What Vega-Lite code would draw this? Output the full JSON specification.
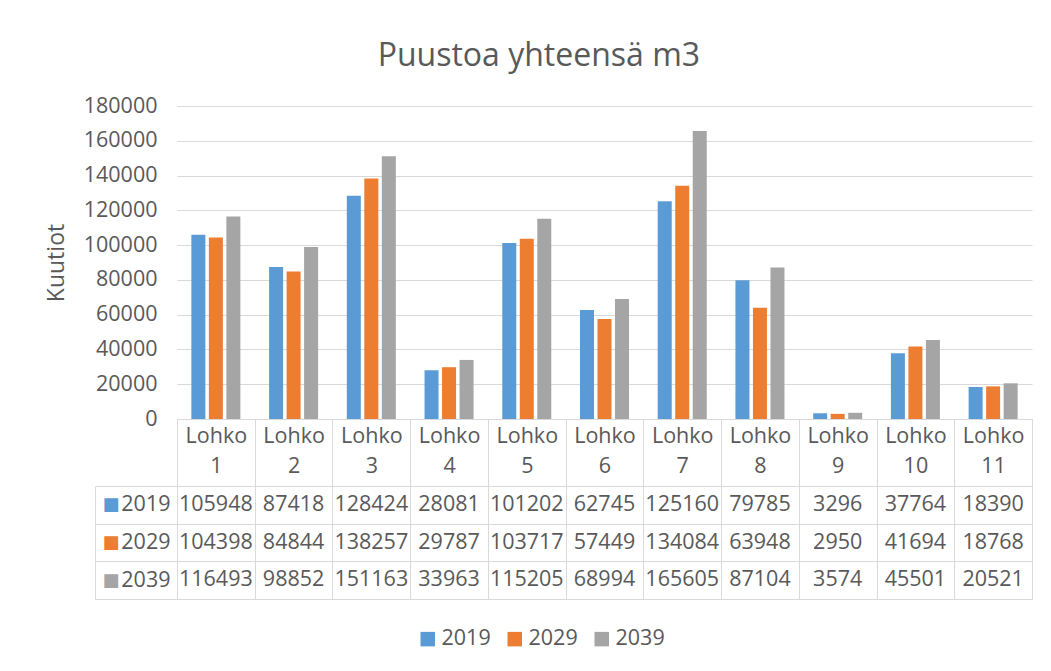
{
  "$schema": "https://vega.github.io/schema/vega-lite/v6.json",
  "background": "white",
  "padding": {"left": 45, "top": 40, "right": 20, "bottom": 10},
  "title": {"text": "Puustoa yhteensä m3", "font": "Open Sans", "fontSize": 32, "fontWeight": "normal", "color": "#595959", "anchor": "middle", "offset": 22},
  "data": {"values": [
    {"cat": "Lohko 1", "year": "2019", "value": 105948},
    {"cat": "Lohko 1", "year": "2029", "value": 104398},
    {"cat": "Lohko 1", "year": "2039", "value": 116493},
    {"cat": "Lohko 2", "year": "2019", "value": 87418},
    {"cat": "Lohko 2", "year": "2029", "value": 84844},
    {"cat": "Lohko 2", "year": "2039", "value": 98852},
    {"cat": "Lohko 3", "year": "2019", "value": 128424},
    {"cat": "Lohko 3", "year": "2029", "value": 138257},
    {"cat": "Lohko 3", "year": "2039", "value": 151163},
    {"cat": "Lohko 4", "year": "2019", "value": 28081},
    {"cat": "Lohko 4", "year": "2029", "value": 29787},
    {"cat": "Lohko 4", "year": "2039", "value": 33963},
    {"cat": "Lohko 5", "year": "2019", "value": 101202},
    {"cat": "Lohko 5", "year": "2029", "value": 103717},
    {"cat": "Lohko 5", "year": "2039", "value": 115205},
    {"cat": "Lohko 6", "year": "2019", "value": 62745},
    {"cat": "Lohko 6", "year": "2029", "value": 57449},
    {"cat": "Lohko 6", "year": "2039", "value": 68994},
    {"cat": "Lohko 7", "year": "2019", "value": 125160},
    {"cat": "Lohko 7", "year": "2029", "value": 134084},
    {"cat": "Lohko 7", "year": "2039", "value": 165605},
    {"cat": "Lohko 8", "year": "2019", "value": 79785},
    {"cat": "Lohko 8", "year": "2029", "value": 63948},
    {"cat": "Lohko 8", "year": "2039", "value": 87104},
    {"cat": "Lohko 9", "year": "2019", "value": 3296},
    {"cat": "Lohko 9", "year": "2029", "value": 2950},
    {"cat": "Lohko 9", "year": "2039", "value": 3574},
    {"cat": "Lohko 10", "year": "2019", "value": 37764},
    {"cat": "Lohko 10", "year": "2029", "value": 41694},
    {"cat": "Lohko 10", "year": "2039", "value": 45501},
    {"cat": "Lohko 11", "year": "2019", "value": 18390},
    {"cat": "Lohko 11", "year": "2029", "value": 18768},
    {"cat": "Lohko 11", "year": "2039", "value": 20521}
  ]},
  "bounds": "flush",
  "spacing": 67,
  "resolve": {"scale": {"color": "shared"}, "legend": {"color": "shared"}},
  "vconcat": [
    {
      "width": 855,
      "height": 313,
      "mark": {"type": "bar"},
      "encoding": {
        "x": {
          "field": "cat", "type": "nominal",
          "sort": ["Lohko 1", "Lohko 2", "Lohko 3", "Lohko 4", "Lohko 5", "Lohko 6", "Lohko 7", "Lohko 8", "Lohko 9", "Lohko 10", "Lohko 11"],
          "scale": {"paddingInner": 0, "paddingOuter": 0},
          "axis": {
            "title": null, "labelExpr": "split(datum.label, ' ')", "labelAngle": 0,
            "labelFont": "Open Sans", "labelFontSize": 21.5, "labelColor": "#595959",
            "labelLineHeight": 30, "labelPadding": -61, "labelBaseline": "top", "labelOverlap": false,
            "ticks": true, "tickBand": "extent", "tickSize": 67, "tickColor": "#D9D9D9", "tickWidth": 1,
            "domain": true, "domainColor": "#D9D9D9", "grid": false
          }
        },
        "xOffset": {"field": "year", "type": "nominal", "scale": {"paddingInner": 0.2, "paddingOuter": 0.82}},
        "y": {
          "field": "value", "type": "quantitative",
          "scale": {"domain": [0, 180000]},
          "axis": {
            "title": "Kuutiot", "values": [0, 20000, 40000, 60000, 80000, 100000, 120000, 140000, 160000, 180000],
            "format": "d", "labelFont": "Open Sans", "labelFontSize": 21.5, "labelColor": "#595959",
            "labelPadding": 20, "ticks": false, "domain": false, "grid": true, "gridColor": "#D9D9D9",
            "titleFont": "Open Sans", "titleFontSize": 23, "titleColor": "#595959", "titleFontWeight": "normal", "titlePadding": 15
          }
        },
        "color": {
          "field": "year", "type": "nominal",
          "scale": {"domain": ["2019", "2029", "2039"], "range": ["#5B9BD5", "#ED7D31", "#A5A5A5"]},
          "legend": {
            "title": null, "orient": "none", "legendX": 240, "legendY": 522, "direction": "horizontal", "symbolType": "square",
            "symbolSize": 210, "symbolStrokeWidth": 0, "labelFont": "Open Sans", "labelFontSize": 21.5,
            "labelColor": "#595959", "labelOffset": 3, "columnPadding": 13
          }
        }
      }
    },
    {
      "width": 855,
      "height": 113,
      "layer": [
        {
          "mark": {"type": "text", "font": "Open Sans", "fontSize": 21.5, "color": "#595959"},
          "encoding": {
            "x": {
              "field": "cat", "type": "nominal",
              "sort": ["Lohko 1", "Lohko 2", "Lohko 3", "Lohko 4", "Lohko 5", "Lohko 6", "Lohko 7", "Lohko 8", "Lohko 9", "Lohko 10", "Lohko 11"],
              "scale": {"paddingInner": 0, "paddingOuter": 0},
              "axis": {"title": null, "labels": false, "ticks": false, "domain": false, "grid": true, "tickBand": "extent", "gridColor": "#D9D9D9"}
            },
            "y": {
              "field": "year", "type": "nominal",
              "scale": {"domain": ["2019", "2029", "2039"], "paddingInner": 0, "paddingOuter": 0},
              "axis": {
                "title": null, "orient": "left", "grid": true, "tickBand": "extent", "gridColor": "#D9D9D9",
                "ticks": true, "tickSize": 82, "tickColor": "#D9D9D9", "domain": false,
                "labelPadding": -75, "labelFont": "Open Sans", "labelFontSize": 21.5, "labelColor": "#595959"
              }
            },
            "text": {"field": "value", "type": "quantitative", "format": "d"}
          }
        },
        {
          "mark": {"type": "text", "opacity": 0},
          "encoding": {
            "y": {
              "field": "year", "type": "nominal",
              "scale": {"domain": ["2019", "2029", "2039"], "paddingInner": 0, "paddingOuter": 0},
              "axis": {
                "title": null, "orient": "left", "offset": 82, "grid": false, "ticks": false,
                "domain": true, "domainColor": "#D9D9D9", "labelExpr": "'■'", "labelAlign": "left",
                "labelPadding": -7, "labelFont": "DejaVu Sans", "labelFontSize": 18,
                "labelColor": {"condition": [{"test": "datum.value == '2019'", "value": "#5B9BD5"}, {"test": "datum.value == '2029'", "value": "#ED7D31"}], "value": "#A5A5A5"}
              }
            },
            "text": {"value": ""}
          }
        }
      ],
      "resolve": {"scale": {"y": "independent"}, "axis": {"y": "independent"}}
    }
  ],
  "config": {"view": {"stroke": null}, "font": "Open Sans"}
}
